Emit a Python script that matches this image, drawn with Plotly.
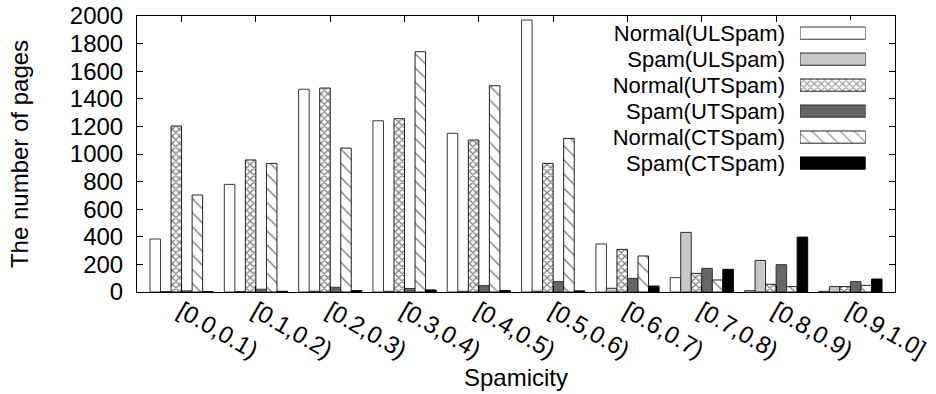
import plotly.graph_objects as go

# Spamicity bins
categories = ["[0.0,0.1)", "[0.1,0.2)", "[0.2,0.3)", "[0.3,0.4)", "[0.4,0.5)",
              "[0.5,0.6)", "[0.6,0.7)", "[0.7,0.8)", "[0.8,0.9)", "[0.9,1.0]"]

# Page counts per bin
normal_ulspam = [384, 780, 1469, 1241, 1150, 1971, 348, 104, 10, 5]
spam_ulspam = [3, 4, 6, 5, 5, 6, 27, 432, 229, 39]
normal_utspam = [1203, 957, 1478, 1256, 1101, 932, 309, 135, 56, 39]
spam_utspam = [8, 20, 34, 25, 46, 75, 99, 171, 198, 75]
normal_ctspam = [703, 932, 1043, 1741, 1495, 1113, 261, 87, 39, 48]
spam_ctspam = [3, 5, 10, 15, 10, 8, 43, 164, 398, 94]

series_names = ["Normal(ULSpam)", "Spam(ULSpam)", "Normal(UTSpam)",
                "Spam(UTSpam)", "Normal(CTSpam)", "Spam(CTSpam)"]
series_values = [normal_ulspam, spam_ulspam, normal_utspam,
                 spam_utspam, normal_ctspam, spam_ctspam]

# fill, pattern shape, pattern size, solidity, outline colour
styles = [
    ("white", "", 8, 0.3, "#3a3a3a"),
    ("#c8c8c8", "", 8, 0.3, "#2a2a2a"),
    ("white", "x", 5, 0.45, "#222222"),
    ("#666666", "", 8, 0.3, "#333333"),
    ("white", "\\", 10, 0.14, "#222222"),
    ("black", "", 8, 0.3, "black"),
]

FONT = "Liberation Sans, Arial, Helvetica, sans-serif"
FS = 24
KEY_FS = 22

fig = go.Figure()

for name, vals, (fill, shape, psize, solid, lcol) in zip(series_names, series_values, styles):
    marker = dict(color=fill, line=dict(color=lcol, width=1))
    if shape:
        marker["pattern"] = dict(shape=shape, size=psize, solidity=solid,
                                 fgcolor="black", bgcolor="white", fillmode="overlay")
    fig.add_trace(go.Bar(x=categories, y=vals, name=name, marker=marker,
                         showlegend=False, xaxis="x", yaxis="y"))

# Key: one horizontal sample bar per series, labelled by the axis ticks
fig.add_trace(go.Bar(
    y=series_names, x=[1] * len(series_names), orientation="h",
    width=0.47, showlegend=False, hoverinfo="skip",
    xaxis="x2", yaxis="y2",
    marker=dict(
        color=[s[0] for s in styles],
        line=dict(color=[s[4] for s in styles], width=1),
        pattern=dict(shape=[s[1] for s in styles],
                     size=[s[2] for s in styles],
                     solidity=[s[3] for s in styles],
                     fgcolor="black", bgcolor="white", fillmode="overlay"),
    ),
))

axis_common = dict(showgrid=False, zeroline=False, showline=True, linecolor="black",
                   linewidth=1, mirror="ticks", ticks="inside", ticklen=6,
                   tickcolor="black", automargin=False,
                   tickfont=dict(family=FONT, size=FS, color="black"))

fig.update_layout(
    width=936, height=394,
    margin=dict(l=137, r=41, t=16, b=102, autoexpand=False),
    paper_bgcolor="white", plot_bgcolor="white",
    barmode="group", bargap=0.15, bargroupgap=0,
    font=dict(family=FONT, size=FS, color="black"),
    xaxis=dict(axis_common, type="category", categoryorder="array",
               categoryarray=categories, range=[-0.6, 9.6], tickangle=30,
               ticklabelstandoff=-5,
               title=dict(text="Spamicity", font=dict(family=FONT, size=FS), standoff=1)),
    yaxis=dict(axis_common, range=[0, 2000], dtick=200,
               ticklabelstandoff=8,
               title=dict(text="The number of pages", font=dict(family=FONT, size=FS),
                          standoff=34)),
    xaxis2=dict(domain=[0.8747, 0.9613], range=[0, 1], anchor="y2",
                visible=False, fixedrange=True),
    yaxis2=dict(domain=[0.42, 0.985], anchor="x2", type="category",
                categoryorder="array", categoryarray=series_names,
                tickmode="array", tickvals=series_names, ticktext=series_names,
                autorange="reversed", showgrid=False, zeroline=False,
                showline=False, ticks="", ticklabelstandoff=14, automargin=False,
                tickfont=dict(family=FONT, size=KEY_FS, color="black")),
)

fig.write_html("out.html")
